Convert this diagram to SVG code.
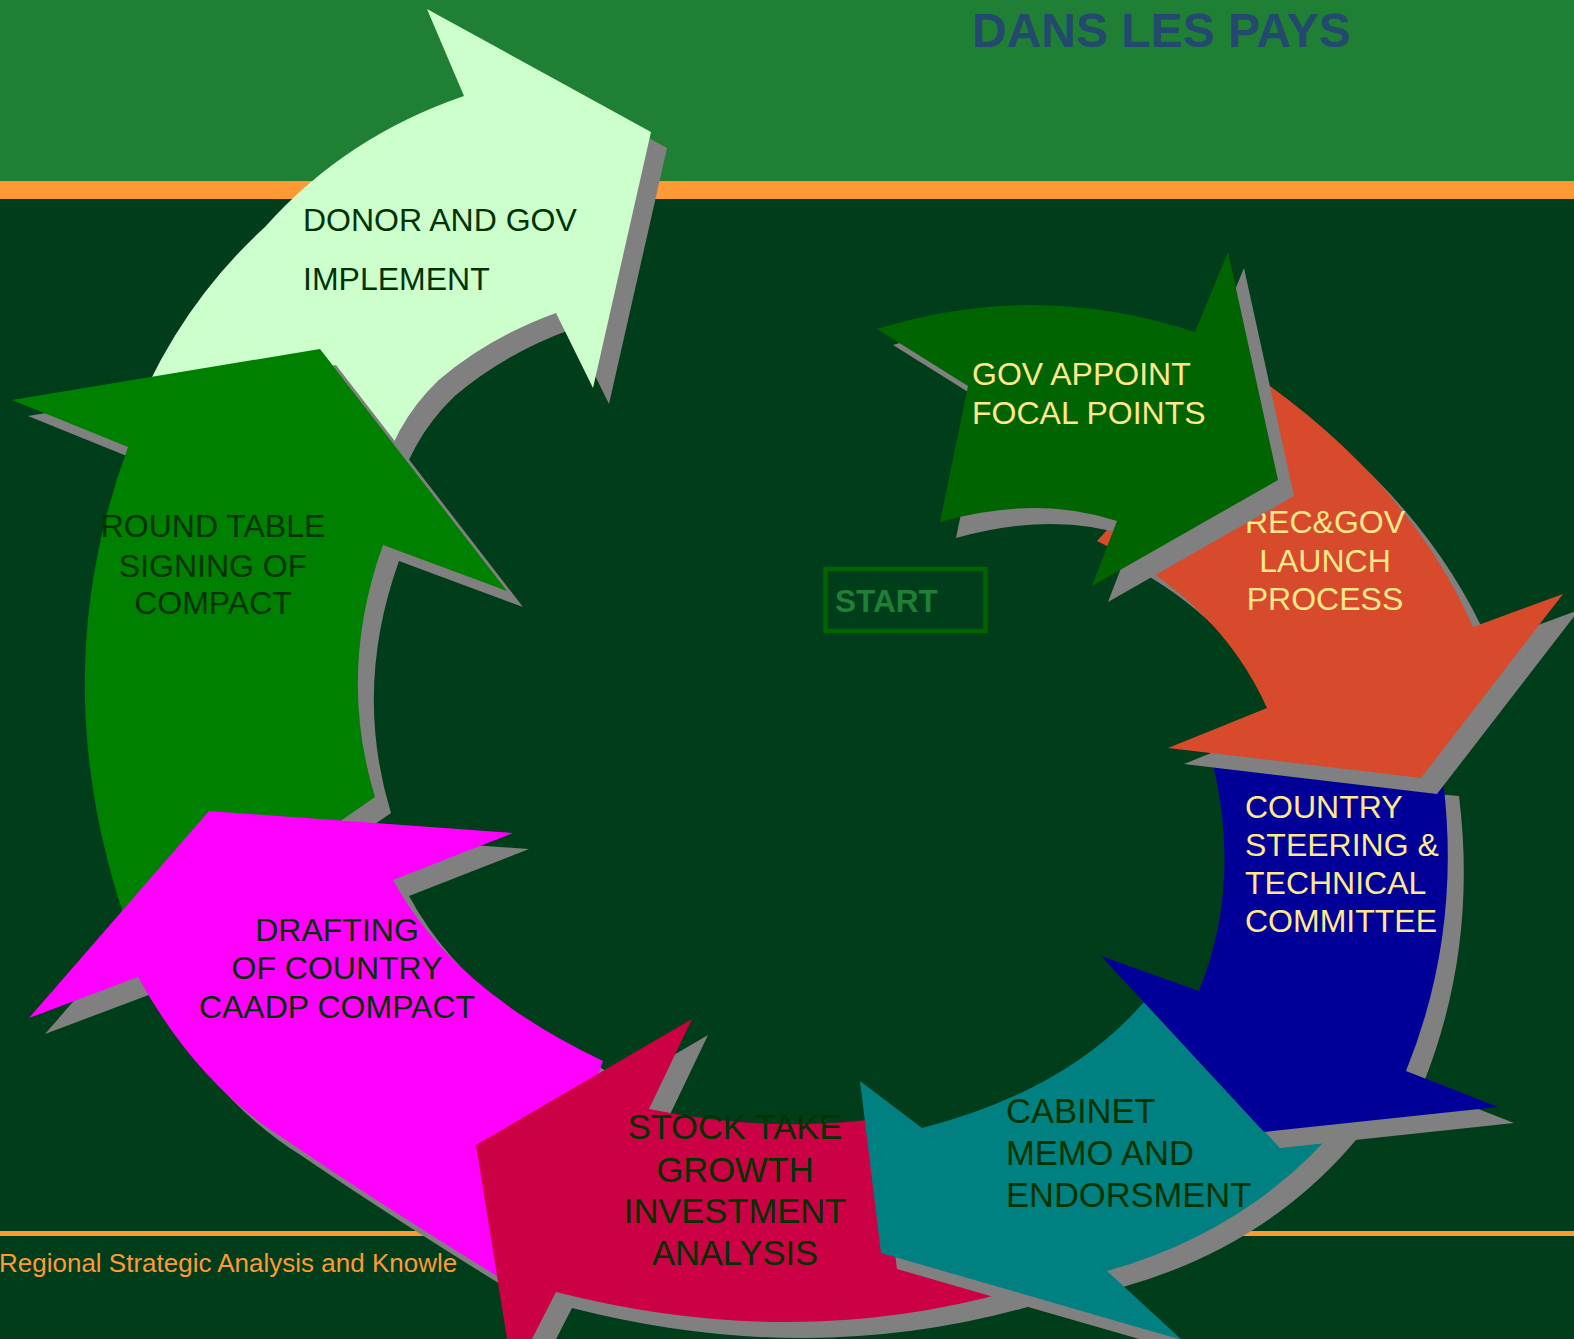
<svg xmlns="http://www.w3.org/2000/svg" width="1574" height="1339" viewBox="0 0 1574 1339">
<style>
.sh{fill:#808080}
.t{font-family:"Liberation Sans",Arial,sans-serif;font-size:32px}
.dk{fill:#003300}
.yl{fill:#ffe88c}
.big{font-size:34.5px}
</style>
<defs>
<path id="a-lg" d="M128,432 Q173.5,310.5 265,227 Q345.5,136.5 464,96 L427,9 L651,132 L593,388 L556,313 Q488.6,337.5 438.8,380 Q391.6,425 378,490 Z"/>
<path id="a-rt" d="M12,400 L320,349 L507,591 L383,545 Q337,673 375,797 L140,960 Q36,696.5 128,447 Z"/>
<path id="a-mg" d="M209,811 L513,833 L393,880 Q452,989.5 603,1061 L520,1290 Q387,1209 286,1140 Q198,1085.5 138,977 L29,1018 Z"/>
<path id="a-cr" d="M476,1145 L692,1019 L649,1109 Q778,1135.5 895,1116 L1015,1290 Q794.5,1353 556,1292 L513,1376 Z"/>
<path id="a-tl" d="M860,1081 L922,1128 Q1080,1087.5 1158,985 L1345,1118 Q1254,1229.5 1107,1271 L1182,1340 L881,1253 Z"/>
<path id="a-bl" d="M1212,760 L1443,780 Q1462,933 1406,1071 L1498,1107 L1264,1132 L1101,956 L1199,991 Q1242.5,883.5 1212,760 Z"/>
<path id="a-or" d="M1250,372 Q1408.5,480.5 1473,627 L1563,594 L1421,778 L1168,748 L1267,708 Q1218,599.5 1097,541 Z"/>
<path id="a-gv" d="M877,329 Q1034,279.5 1195,332 L1228,252 L1278,480 L1092,586 L1117,521 Q1037.5,494.5 940,522 L968,386 Z"/>
</defs>

<g id="background">
<rect x="0" y="0" width="1574" height="1339" fill="#003d1a"/>
<rect x="0" y="0" width="1574" height="181" fill="#1e7f35"/>
<rect x="0" y="181" width="1574" height="18" fill="#ff9933"/>
<rect x="0" y="1231" width="1574" height="5" fill="#ff9933"/>
<text x="-1" y="1272" font-family="Liberation Sans,Arial,sans-serif" font-size="26" fill="#ff9933">Regional Strategic Analysis and Knowle</text>
<text x="972" y="46.5" font-family="Liberation Sans,Arial,sans-serif" font-size="48" font-weight="bold" fill="#234a6e">DANS LES PAYS</text>
</g>

<g id="connectors"></g>

<g id="node-donor">
<use href="#a-lg" class="sh" transform="translate(16,16)"/>
<use href="#a-lg" fill="#ccffcc"/>
<text class="t dk"><tspan x="303" y="231">DONOR AND GOV</tspan><tspan x="303" y="290">IMPLEMENT</tspan></text>
</g>

<g id="node-roundtable">
<use href="#a-rt" class="sh" transform="translate(16,16)"/>
<use href="#a-rt" fill="#008000"/>
<text class="t dk" text-anchor="middle"><tspan x="213" y="537">ROUND TABLE</tspan><tspan x="213" y="577">SIGNING OF</tspan><tspan x="213" y="614">COMPACT</tspan></text>
</g>

<g id="node-drafting">
<use href="#a-mg" class="sh" transform="translate(16,16)"/>
<use href="#a-mg" fill="#ff00ff"/>
<text class="t dk" text-anchor="middle"><tspan x="337" y="941">DRAFTING</tspan><tspan x="337" y="979">OF COUNTRY</tspan><tspan x="337" y="1018">CAADP COMPACT</tspan></text>
</g>

<g id="node-stocktake">
<use href="#a-cr" class="sh" transform="translate(16,16)"/>
<use href="#a-cr" fill="#cc0044"/>
<text class="t big dk" text-anchor="middle"><tspan x="735" y="1139">STOCK TAKE</tspan><tspan x="735" y="1182">GROWTH</tspan><tspan x="735" y="1223">INVESTMENT</tspan><tspan x="735" y="1265">ANALYSIS</tspan></text>
</g>

<g id="node-cabinet">
<use href="#a-tl" class="sh" transform="translate(16,16)"/>
<use href="#a-tl" fill="#008080"/>
<text class="t big dk"><tspan x="1006" y="1123">CABINET</tspan><tspan x="1006" y="1165">MEMO AND</tspan><tspan x="1006" y="1207">ENDORSMENT</tspan></text>
</g>

<g id="node-steering">
<use href="#a-bl" class="sh" transform="translate(16,16)"/>
<use href="#a-bl" fill="#000099"/>
<text class="t yl"><tspan x="1245" y="818">COUNTRY</tspan><tspan x="1245" y="856">STEERING &amp;</tspan><tspan x="1245" y="894">TECHNICAL</tspan><tspan x="1245" y="932">COMMITTEE</tspan></text>
</g>

<g id="node-launch">
<use href="#a-or" class="sh" transform="translate(16,16)"/>
<use href="#a-or" fill="#d84a2c"/>
<text class="t yl" text-anchor="middle"><tspan x="1325" y="533">REC&amp;GOV</tspan><tspan x="1325" y="572">LAUNCH</tspan><tspan x="1325" y="610">PROCESS</tspan></text>
</g>

<g id="node-focal">
<use href="#a-gv" class="sh" transform="translate(16,16)"/>
<use href="#a-gv" fill="#006400"/>
<text class="t yl"><tspan x="972" y="385">GOV APPOINT</tspan><tspan x="972" y="424">FOCAL POINTS</tspan></text>
</g>

<g id="node-start">
<rect x="825.5" y="569" width="160" height="62" fill="none" stroke="#006400" stroke-width="4.5"/>
<text x="835" y="612" font-family="Liberation Sans,Arial,sans-serif" font-size="31.5" font-weight="bold" fill="#1e7f35">START</text>
</g>
</svg>
